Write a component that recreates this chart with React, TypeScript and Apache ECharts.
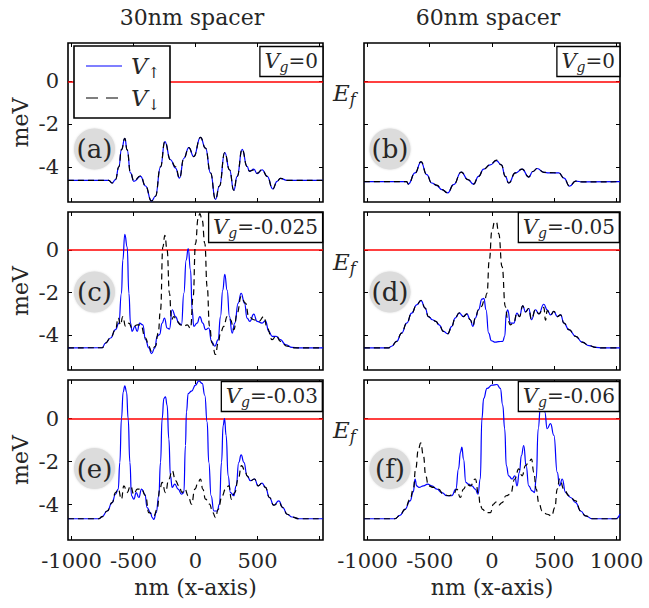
import React, { useEffect, useRef } from "react";
import * as echarts from "echarts";

type Pt = [number, number];

const columnTitles = ["30nm spacer", "60nm spacer"];
const panelLetters = ["(a)", "(b)", "(c)", "(d)", "(e)", "(f)"];
const gateValues = ["0", "0", "-0.025", "-0.05", "-0.03", "-0.06"];
const xTickValues = [-1000, -500, 0, 500, 1000];
const yTickValues = [-4, -2, 0];
const xRange = [-1028, 1028];
const yRange = [-5.65, 1.8];
const xAxisTitle = "nm (x-axis)";
const yAxisTitle = "meV";
const fermiLevel = 0;

// (a) 30nm, Vg = 0
const upA: Pt[] = [[-1028,-4.64],[-699,-4.64],[-672,-4.76],[-645,-4.6],[-618,-4.0],[-597,-3.2],[-570,-2.67],[-551,-3.21],[-524,-4.29],[-497,-4.68],[-443,-4.45],[-403,-4.9],[-355,-5.61],[-323,-5.38],[-282,-4.0],[-247,-2.82],[-202,-3.67],[-161,-4.06],[-129,-4.53],[-94,-3.6],[-54,-3.1],[-14,-3.52],[40,-2.62],[81,-3.13],[121,-4.29],[161,-5.53],[193,-4.9],[236,-3.33],[274,-4.14],[309,-5.1],[336,-4.45],[376,-3.18],[416,-3.98],[435,-4.22],[470,-4.11],[497,-4.32],[537,-4.14],[578,-4.45],[623,-5.04],[658,-4.68],[685,-4.54],[739,-4.64],[1028,-4.64]];
const downA: Pt[] = [[-1028,-4.64],[-699,-4.64],[-672,-4.76],[-645,-4.6],[-618,-4.0],[-597,-3.2],[-570,-2.67],[-551,-3.21],[-524,-4.29],[-497,-4.66],[-443,-4.42],[-403,-4.9],[-355,-5.6],[-323,-5.38],[-282,-4.0],[-247,-2.82],[-202,-3.67],[-161,-4.0],[-129,-4.53],[-94,-3.6],[-54,-3.1],[-14,-3.52],[40,-2.62],[81,-3.13],[121,-4.29],[161,-5.53],[193,-4.9],[236,-3.33],[274,-4.14],[309,-5.1],[336,-4.45],[376,-3.18],[416,-3.98],[435,-4.2],[470,-4.15],[497,-4.3],[537,-4.14],[578,-4.45],[623,-5.04],[658,-4.68],[685,-4.54],[739,-4.64],[1028,-4.64]];

// (b) 60nm, Vg = 0
const upB: Pt[] = [[-1028,-4.7],[-685,-4.7],[-672,-4.81],[-618,-4.29],[-570,-3.78],[-524,-4.37],[-484,-4.76],[-443,-4.88],[-403,-5.07],[-355,-5.22],[-309,-4.84],[-247,-4.25],[-194,-4.6],[-148,-4.81],[-108,-4.45],[-67,-4.11],[-14,-3.91],[35,-3.71],[75,-3.91],[107,-4.45],[134,-4.76],[188,-4.29],[242,-4.11],[295,-4.48],[328,-4.22],[363,-4.08],[416,-4.26],[457,-4.29],[537,-4.29],[578,-4.53],[623,-4.91],[672,-4.67],[725,-4.71],[1028,-4.7]];
const downB: Pt[] = [[-1028,-4.7],[-685,-4.7],[-672,-4.81],[-618,-4.29],[-570,-3.76],[-524,-4.37],[-484,-4.76],[-443,-4.86],[-403,-5.07],[-355,-5.22],[-309,-4.84],[-247,-4.25],[-194,-4.6],[-148,-4.81],[-108,-4.45],[-67,-4.11],[-14,-3.9],[35,-3.69],[75,-3.91],[107,-4.45],[134,-4.76],[188,-4.29],[242,-4.11],[295,-4.48],[328,-4.22],[363,-4.08],[416,-4.26],[457,-4.27],[537,-4.29],[578,-4.53],[623,-4.91],[672,-4.67],[725,-4.71],[1028,-4.7]];

// (c) 30nm, Vg = -0.025
const upC: Pt[] = [[-1028,-4.61],[-752,-4.6],[-726,-4.38],[-685,-4.14],[-645,-3.75],[-618,-3.44],[-597,-2.03],[-586,-0.47],[-570,0.75],[-551,0.16],[-537,-2.03],[-524,-3.44],[-511,-3.83],[-489,-3.59],[-470,-3.83],[-451,-3.44],[-425,-3.52],[-403,-4.22],[-376,-4.61],[-355,-4.88],[-328,-4.61],[-309,-4.06],[-290,-3.98],[-269,-3.44],[-250,-3.2],[-229,-3.67],[-210,-3.72],[-188,-2.81],[-161,-3.13],[-134,-3.44],[-113,-3.52],[-94,-2.03],[-75,-0.47],[-59,0.08],[-40,-0.94],[-27,-2.81],[-14,-3.59],[13,-3.44],[35,-3.13],[59,-3.44],[81,-3.75],[107,-3.67],[129,-4.3],[156,-4.53],[183,-4.22],[201,-3.13],[220,-1.88],[236,-1.14],[255,-1.88],[274,-3.13],[295,-3.91],[317,-3.44],[344,-2.5],[368,-2.03],[395,-2.5],[416,-3.2],[438,-3.36],[470,-3.02],[497,-3.36],[537,-3.44],[564,-3.33],[591,-3.83],[618,-4.06],[650,-4.06],[685,-4.22],[725,-4.45],[779,-4.58],[833,-4.61],[1028,-4.61]];
const downC: Pt[] = [[-1028,-4.61],[-752,-4.6],[-726,-4.38],[-685,-4.14],[-645,-3.75],[-623,-3.2],[-605,-3.52],[-586,-3.13],[-564,-3.59],[-537,-3.44],[-511,-3.67],[-470,-3.52],[-443,-3.52],[-403,-4.14],[-376,-4.53],[-355,-4.77],[-323,-4.53],[-301,-3.91],[-282,-2.81],[-263,0.16],[-247,0.7],[-229,0.0],[-210,-2.03],[-194,-3.28],[-175,-3.13],[-148,-3.36],[-121,-3.52],[-94,-3.59],[-67,-3.52],[-40,-3.67],[-19,-2.19],[0,0.31],[21,1.48],[35,1.72],[54,1.41],[75,0.31],[94,-1.72],[113,-3.59],[134,-4.38],[161,-4.92],[183,-4.38],[201,-3.91],[228,-3.59],[255,-3.13],[282,-3.28],[309,-3.75],[336,-2.97],[368,-2.19],[403,-2.5],[430,-3.13],[470,-3.28],[510,-3.36],[551,-3.13],[578,-3.67],[618,-4.22],[650,-4.03],[685,-4.3],[739,-4.53],[806,-4.61],[1028,-4.61]];

// (d) 60nm, Vg = -0.05
const upD: Pt[] = [[-1028,-4.61],[-833,-4.61],[-806,-4.53],[-766,-4.3],[-726,-3.91],[-685,-3.44],[-645,-2.97],[-605,-2.58],[-570,-2.38],[-537,-2.73],[-511,-3.13],[-478,-3.28],[-451,-3.36],[-425,-3.52],[-390,-3.83],[-355,-3.94],[-323,-3.59],[-296,-3.2],[-263,-2.97],[-229,-3.13],[-202,-3.0],[-175,-3.28],[-153,-3.59],[-134,-3.2],[-108,-2.81],[-81,-2.31],[-65,-2.27],[-48,-2.81],[-27,-3.91],[-5,-4.27],[27,-4.34],[54,-4.31],[86,-4.3],[102,-4.06],[115,-2.97],[126,-2.81],[148,-3.44],[175,-3.44],[201,-2.97],[220,-3.13],[247,-2.63],[269,-2.91],[295,-2.75],[317,-3.28],[349,-2.81],[376,-3.0],[416,-2.55],[443,-2.81],[470,-3.05],[497,-2.89],[524,-3.13],[551,-3.05],[578,-3.44],[618,-3.75],[672,-4.06],[725,-4.34],[779,-4.5],[833,-4.58],[887,-4.61],[1028,-4.61]];
const downD: Pt[] = [[-1028,-4.61],[-833,-4.61],[-806,-4.53],[-766,-4.3],[-726,-3.91],[-685,-3.44],[-645,-2.97],[-605,-2.58],[-570,-2.36],[-537,-2.73],[-511,-3.13],[-478,-3.26],[-451,-3.36],[-425,-3.52],[-390,-3.83],[-355,-3.94],[-323,-3.59],[-296,-3.2],[-263,-2.95],[-229,-3.13],[-202,-3.0],[-175,-3.28],[-153,-3.55],[-134,-3.2],[-108,-2.81],[-86,-2.66],[-59,-2.34],[-40,-2.03],[-22,-0.47],[0,0.94],[21,1.33],[35,1.33],[54,0.78],[81,-0.78],[107,-2.66],[126,-3.28],[148,-3.52],[175,-3.4],[201,-2.97],[220,-3.13],[247,-2.63],[269,-2.91],[295,-2.75],[317,-3.25],[349,-2.81],[376,-3.0],[416,-2.7],[430,-3.3],[443,-2.85],[470,-3.05],[497,-2.89],[524,-3.13],[551,-3.05],[578,-3.44],[618,-3.75],[672,-4.06],[725,-4.34],[779,-4.5],[833,-4.58],[887,-4.61],[1028,-4.61]];

// (e) 30nm, Vg = -0.03
const upE: Pt[] = [[-1028,-4.66],[-779,-4.66],[-752,-4.56],[-712,-4.3],[-672,-3.91],[-645,-3.52],[-623,-3.28],[-610,-2.03],[-597,0.0],[-583,1.25],[-570,1.53],[-556,1.25],[-543,0.0],[-529,-2.03],[-516,-3.59],[-497,-3.75],[-478,-3.44],[-457,-3.67],[-435,-3.28],[-408,-3.52],[-390,-4.14],[-363,-4.38],[-349,-4.61],[-336,-4.69],[-317,-4.38],[-296,-3.59],[-282,-2.03],[-269,0.0],[-255,0.94],[-242,1.02],[-229,0.63],[-215,-0.94],[-202,-2.66],[-188,-3.2],[-167,-3.05],[-140,-3.28],[-113,-3.52],[-94,-3.44],[-81,-1.25],[-73,0.31],[-59,1.17],[-32,1.28],[0,1.56],[27,1.76],[54,1.64],[75,1.09],[94,-0.16],[107,-2.03],[126,-3.59],[148,-4.3],[175,-4.3],[193,-3.98],[210,-2.03],[223,-0.31],[234,0.0],[247,-0.78],[263,-2.66],[282,-3.44],[309,-3.59],[328,-3.13],[349,-2.03],[368,-1.69],[390,-2.03],[416,-2.66],[443,-2.89],[476,-2.81],[505,-3.13],[537,-3.0],[564,-3.2],[596,-3.67],[631,-4.03],[672,-3.83],[704,-4.14],[739,-4.45],[779,-4.58],[833,-4.66],[1028,-4.66]];
const downE: Pt[] = [[-1028,-4.66],[-779,-4.66],[-752,-4.56],[-712,-4.3],[-672,-3.91],[-645,-3.44],[-623,-3.28],[-597,-3.75],[-578,-3.13],[-551,-3.44],[-524,-3.13],[-497,-3.52],[-470,-3.28],[-435,-3.28],[-403,-3.59],[-376,-4.38],[-336,-4.53],[-309,-4.22],[-288,-3.28],[-269,-2.97],[-242,-3.44],[-215,-2.81],[-188,-2.42],[-161,-2.89],[-134,-3.13],[-108,-3.44],[-86,-3.28],[-59,-3.59],[-32,-3.98],[-5,-3.28],[21,-2.97],[40,-2.81],[59,-3.28],[81,-3.75],[113,-3.98],[140,-4.38],[161,-4.61],[183,-4.22],[215,-3.59],[242,-3.28],[269,-3.13],[290,-3.75],[317,-3.44],[344,-2.81],[371,-2.19],[403,-2.5],[416,-2.66],[443,-2.89],[476,-2.81],[505,-3.13],[537,-3.0],[564,-3.2],[596,-3.67],[631,-4.03],[672,-3.9],[704,-4.14],[739,-4.45],[779,-4.58],[833,-4.66],[1028,-4.66]];

// (f) 60nm, Vg = -0.06
const upF: Pt[] = [[-1028,-4.66],[-779,-4.66],[-739,-4.5],[-699,-4.22],[-658,-3.83],[-632,-3.41],[-618,-2.81],[-605,-3.13],[-586,-3.2],[-551,-3.13],[-516,-3.05],[-484,-3.13],[-443,-3.28],[-403,-3.44],[-363,-3.59],[-323,-3.59],[-290,-3.28],[-269,-2.34],[-253,-1.56],[-242,-1.33],[-229,-1.88],[-210,-2.97],[-188,-3.05],[-161,-3.13],[-134,-3.28],[-113,-3.52],[-94,-2.81],[-81,0.0],[-67,0.94],[-40,1.41],[0,1.56],[40,1.59],[67,1.41],[86,0.63],[102,-0.47],[115,-2.19],[134,-2.66],[161,-2.81],[183,-2.66],[201,-3.13],[220,-2.5],[236,-1.72],[255,-1.25],[274,-2.19],[295,-3.13],[322,-3.36],[341,-3.44],[355,-2.81],[371,-0.47],[390,0.63],[403,0.9],[424,0.31],[443,-0.47],[470,-0.23],[497,-0.78],[524,-2.5],[543,-3.13],[564,-2.81],[591,-3.44],[631,-3.67],[672,-3.91],[712,-4.3],[752,-4.53],[806,-4.66],[994,-4.66],[1028,-4.45]];
const downF: Pt[] = [[-1028,-4.66],[-779,-4.66],[-739,-4.5],[-699,-4.22],[-658,-3.75],[-632,-3.28],[-613,-2.34],[-591,-1.41],[-572,-1.13],[-551,-1.72],[-532,-2.66],[-511,-3.13],[-470,-3.2],[-430,-3.28],[-390,-3.52],[-349,-3.59],[-309,-3.52],[-282,-3.28],[-255,-3.67],[-229,-3.28],[-202,-3.05],[-175,-3.13],[-134,-2.81],[-108,-3.52],[-94,-4.06],[-75,-4.22],[-48,-4.38],[-14,-4.38],[13,-3.98],[32,-3.88],[54,-4.03],[81,-3.91],[113,-3.59],[148,-3.52],[183,-2.81],[215,-2.34],[242,-2.66],[269,-2.19],[295,-2.03],[317,-1.88],[336,-2.5],[355,-3.28],[376,-3.91],[403,-4.3],[443,-4.45],[478,-4.53],[505,-4.14],[524,-3.28],[543,-2.81],[578,-3.28],[618,-3.59],[672,-3.83],[712,-4.3],[752,-4.53],[806,-4.66],[1028,-4.66]];

const upSeries = [upA, upB, upC, upD, upE, upF];
const downSeries = [downA, downB, downC, downD, downE, downF];

const FONT = "'DejaVu Serif', serif";
const TXT = "#262626";
const colLeft = [68, 364];
const colWidth = [255, 256];
const rowTop = [43, 212, 380];
const rowHeight = [159, 158, 160];
const boxTop = [43, 209, 378];
const boxRight = [326, 29];
const circleX = [94.5, 390];
const circleY = [149, 292, 468.5];
const efY = [93, 262, 430];

function buildOption() {
  const grids: any[] = [];
  const xAxes: any[] = [];
  const yAxes: any[] = [];
  const series: any[] = [];
  const titles: any[] = [];
  const mirrorX: any[] = [];
  const mirrorY: any[] = [];
  const graphics: any[] = [];
  const plainNum = (v: number) => String(v);

  for (let p = 0; p < 6; p++) {
    const row = Math.floor(p / 2);
    const col = p % 2;
    grids.push({
      left: colLeft[col],
      top: rowTop[row],
      width: colWidth[col],
      height: rowHeight[row],
      show: true,
      borderColor: "#000",
      borderWidth: 1.6,
      backgroundColor: "transparent",
    });
    const tick = { show: true, inside: true, length: 4, lineStyle: { color: "#000", width: 1 } };
    const hiddenLine = { show: false, onZero: false };
    xAxes.push({
      type: "value",
      gridIndex: p,
      min: xRange[0],
      max: xRange[1],
      position: "bottom",
      axisLine: hiddenLine,
      splitLine: { show: false },
      axisTick: { ...tick, customValues: xTickValues },
      axisLabel: {
        show: row === 2,
        customValues: col === 0 ? xTickValues.slice(0, 4) : xTickValues,
        formatter: plainNum,
        margin: 10,
        fontFamily: FONT,
        fontSize: 21,
        color: TXT,
      },
      name: row === 2 ? xAxisTitle : "",
      nameLocation: "middle",
      nameGap: 36,
      nameTextStyle: { fontFamily: FONT, fontSize: 22, color: TXT },
    });
    mirrorX.push({
      type: "value",
      gridIndex: p,
      min: xRange[0],
      max: xRange[1],
      position: "top",
      axisLine: hiddenLine,
      splitLine: { show: false },
      axisTick: { ...tick, customValues: xTickValues },
      axisLabel: { show: false, customValues: xTickValues },
    });
    yAxes.push({
      type: "value",
      gridIndex: p,
      min: yRange[0],
      max: yRange[1],
      position: "left",
      axisLine: hiddenLine,
      splitLine: { show: false },
      axisTick: { ...tick, customValues: yTickValues },
      axisLabel: {
        show: col === 0,
        customValues: yTickValues,
        formatter: plainNum,
        margin: 9,
        fontFamily: FONT,
        fontSize: 21,
        color: TXT,
      },
      name: col === 0 ? yAxisTitle : "",
      nameLocation: "middle",
      nameGap: 37,
      nameTextStyle: { fontFamily: FONT, fontSize: 22, color: TXT },
    });
    mirrorY.push({
      type: "value",
      gridIndex: p,
      min: yRange[0],
      max: yRange[1],
      position: "right",
      axisLine: hiddenLine,
      splitLine: { show: false },
      axisTick: { ...tick, customValues: yTickValues },
      axisLabel: { show: false, customValues: yTickValues },
    });

    series.push({
      type: "line",
      name: "up",
      xAxisIndex: p,
      yAxisIndex: p,
      data: upSeries[p],
      symbol: "none",
      smooth: 0.5,
      smoothMonotone: "x",
      lineStyle: { color: "#0000ff", width: 1.2 },
      z: 3,
      markLine: {
        silent: true,
        symbol: ["none", "none"],
        label: { show: false },
        lineStyle: { color: "#ff0000", type: "solid", width: 1.5 },
        data: [{ yAxis: fermiLevel }],
        z: 2,
      },
    });
    series.push({
      type: "line",
      name: "down",
      xAxisIndex: p,
      yAxisIndex: p,
      data: downSeries[p],
      symbol: "none",
      smooth: 0.5,
      smoothMonotone: "x",
      lineStyle: { color: "#000000", width: 1.2, type: [6, 4] },
      z: 4,
    });

    titles.push({
      text: `{v|V}{g|g}{t|=${gateValues[p]}}`,
      right: boxRight[col],
      top: boxTop[row],
      padding: [4, 5, 3, 5],
      borderColor: "#000",
      borderWidth: 1.3,
      backgroundColor: "#fff",
      textStyle: {
        fontWeight: "normal",
        rich: {
          v: { fontFamily: FONT, fontStyle: "italic", fontWeight: "normal", fontSize: 21, color: TXT, lineHeight: 27 },
          g: { fontFamily: FONT, fontStyle: "italic", fontWeight: "normal", fontSize: 14, color: TXT, verticalAlign: "bottom", lineHeight: 27 },
          t: { fontFamily: FONT, fontWeight: "normal", fontSize: 20, color: TXT, lineHeight: 27 },
        },
      },
    });

    graphics.push({
      type: "circle",
      z: 10,
      shape: { cx: circleX[col], cy: circleY[row], r: 20.5 },
      style: { fill: "#dcdcdc", shadowBlur: 2, shadowColor: "#dcdcdc" },
    });
    graphics.push({
      type: "text",
      z: 11,
      x: circleX[col],
      y: circleY[row],
      style: {
        text: panelLetters[p],
        fontFamily: FONT,
        fontSize: 26,
        fill: TXT,
        align: "center",
        verticalAlign: "middle",
      },
    });
  }

  for (let c = 0; c < 2; c++) {
    graphics.push({
      type: "text",
      z: 11,
      x: c === 0 ? 192 : 488,
      y: 17,
      style: { text: columnTitles[c], fontFamily: FONT, fontSize: 22, fill: TXT, align: "center", verticalAlign: "middle" },
    });
  }
  for (let r = 0; r < 3; r++) {
    graphics.push({
      type: "text",
      z: 11,
      x: 333,
      y: efY[r],
      style: {
        text: "{e|E}{f|f}",
        align: "left",
        verticalAlign: "middle",
        rich: {
          e: { fontFamily: FONT, fontStyle: "italic", fontSize: 23, fill: TXT, lineHeight: 28 },
          f: { fontFamily: FONT, fontStyle: "italic", fontSize: 16, fill: TXT, verticalAlign: "bottom", lineHeight: 28 },
        },
      },
    });
  }

  // legend of panel (a)
  graphics.push({
    type: "rect",
    z: 12,
    shape: { x: 74, y: 46, width: 96, height: 72 },
    style: { fill: "#fff", stroke: "#000", lineWidth: 1.6 },
  });
  graphics.push({
    type: "line",
    z: 13,
    shape: { x1: 86, y1: 66, x2: 122, y2: 66 },
    style: { stroke: "#0000ff", lineWidth: 1.2 },
  });
  graphics.push({
    type: "line",
    z: 13,
    shape: { x1: 86, y1: 98, x2: 122, y2: 98 },
    style: { stroke: "#000", lineWidth: 1.2, lineDash: [12, 8] },
  });
  const legendRich = {
    v: { fontFamily: FONT, fontStyle: "italic", fontSize: 23, fill: TXT, lineHeight: 28 },
    s: { fontFamily: FONT, fontSize: 15, fill: TXT, verticalAlign: "bottom", lineHeight: 28 },
  };
  graphics.push({
    type: "text",
    z: 13,
    x: 131,
    y: 66,
    style: { text: "{v|V}{s|↑}", align: "left", verticalAlign: "middle", rich: legendRich },
  });
  graphics.push({
    type: "text",
    z: 13,
    x: 131,
    y: 98,
    style: { text: "{v|V}{s|↓}", align: "left", verticalAlign: "middle", rich: legendRich },
  });

  return {
    animation: false,
    backgroundColor: "#fff",
    grid: grids,
    xAxis: [...xAxes, ...mirrorX],
    yAxis: [...yAxes, ...mirrorY],
    series,
    title: titles,
    graphic: { elements: graphics },
  };
}

export default function App() {
  const ref = useRef<HTMLDivElement>(null);
  useEffect(() => {
    if (!ref.current) return;
    const chart = echarts.init(ref.current, undefined, { renderer: "svg" });
    chart.setOption(buildOption() as any);
    return () => chart.dispose();
  }, []);
  return (
    <div
      ref={ref}
      style={{ position: "absolute", left: 0, top: 0, width: 649, height: 608, background: "#fff" }}
    />
  );
}
